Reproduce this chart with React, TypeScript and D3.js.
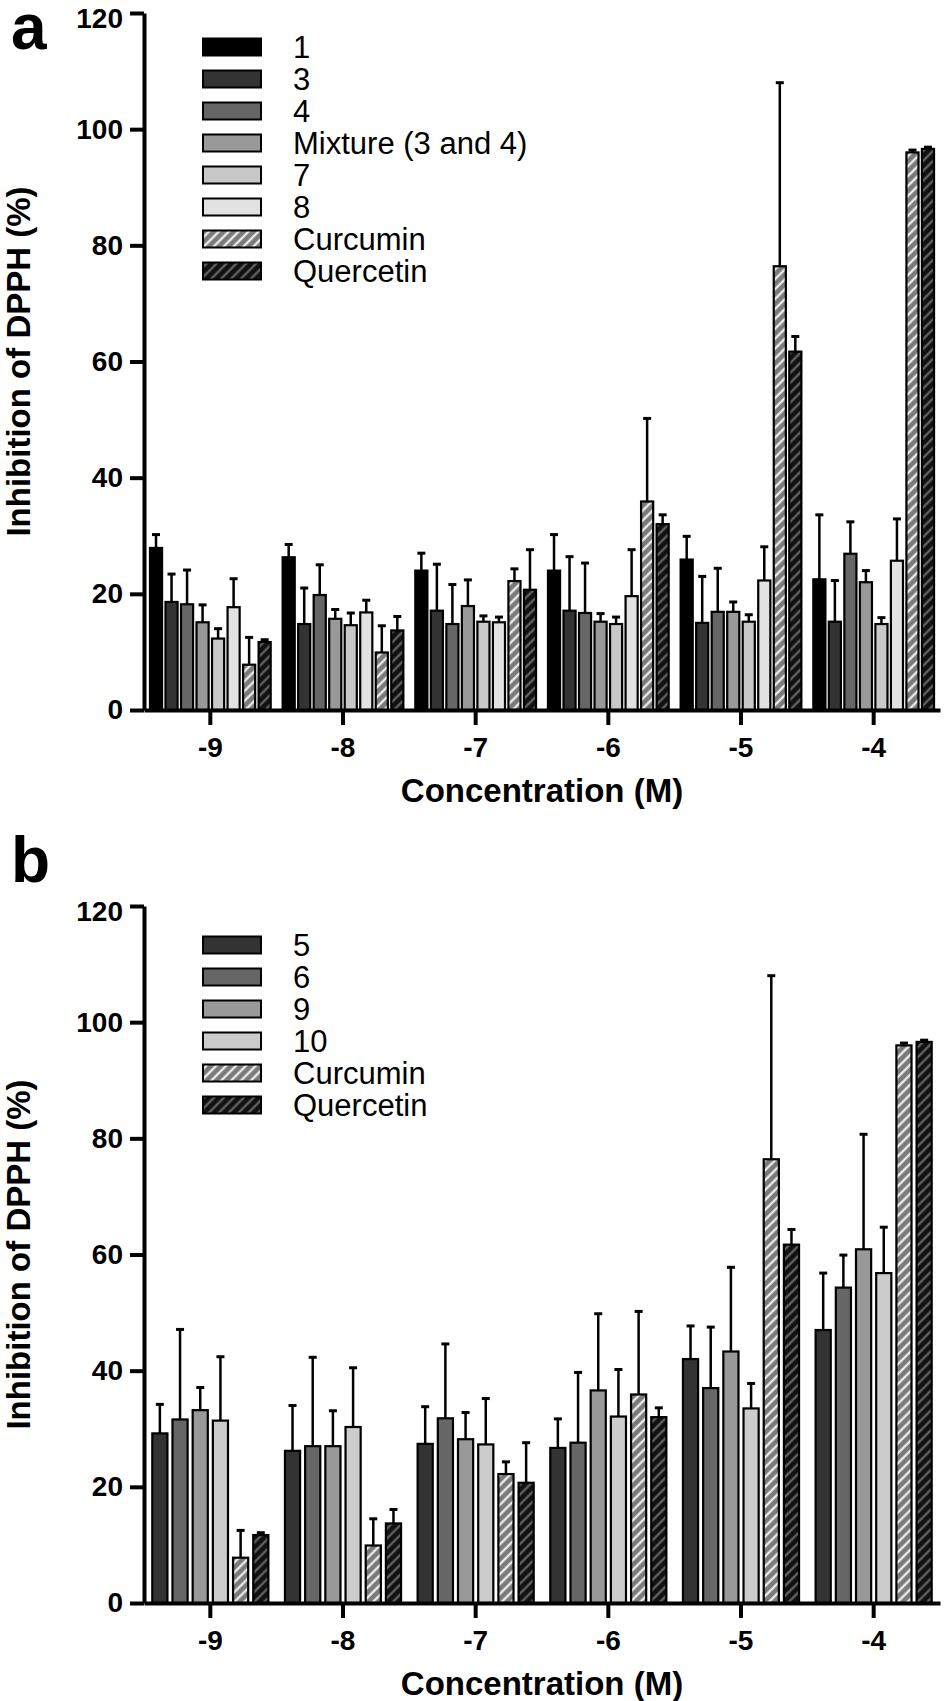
import React, { useEffect, useRef } from 'react';
import * as d3 from 'd3';

const CONCENTRATIONS = ['-9', '-8', '-7', '-6', '-5', '-4'];
const Y_TICKS = [0, 20, 40, 60, 80, 100, 120];

// panel a: mean inhibition (%) and upper error
const MEAN_1 = [27.9, 26.3, 24.0, 24.0, 25.9, 22.5];
const ERR_1 = [2.3, 2.2, 3.0, 6.2, 4.0, 11.1];
const MEAN_3 = [18.6, 14.8, 17.1, 17.1, 15.0, 15.2];
const ERR_3 = [4.8, 6.2, 8.0, 9.3, 8.0, 7.1];
const MEAN_4 = [18.2, 19.8, 14.8, 16.7, 16.9, 26.9];
const ERR_4 = [5.9, 5.2, 6.8, 8.6, 7.5, 5.5];
const MEAN_MIX = [15.1, 15.7, 17.9, 15.2, 16.9, 22.0];
const ERR_MIX = [3.0, 1.6, 4.5, 1.4, 1.7, 2.0];
const MEAN_7 = [12.3, 14.6, 15.2, 14.8, 15.2, 14.8];
const ERR_7 = [1.7, 2.1, 1.0, 1.2, 1.2, 1.1];
const MEAN_8 = [17.7, 16.8, 15.1, 19.6, 22.3, 25.7];
const ERR_8 = [4.9, 2.1, 0.9, 8.0, 5.8, 7.2];

// references (both panels)
const MEAN_CURCUMIN = [7.8, 9.9, 22.2, 35.9, 76.4, 96.0];
const ERR_CURCUMIN = [4.7, 4.6, 2.1, 14.3, 31.6, 0.4];
const MEAN_QUERCETIN = [11.7, 13.7, 20.7, 32.0, 61.7, 96.6];
const ERR_QUERCETIN = [0.4, 2.4, 6.9, 1.6, 2.6, 0.3];

// panel b
const MEAN_5 = [29.2, 26.2, 27.4, 26.7, 42.0, 47.0];
const ERR_5 = [5.0, 7.8, 6.4, 5.0, 5.7, 9.8];
const MEAN_6 = [31.6, 27.0, 31.8, 27.6, 37.0, 54.3];
const ERR_6 = [15.5, 15.3, 12.8, 12.1, 10.5, 5.6];
const MEAN_9 = [33.2, 27.0, 28.2, 36.6, 43.3, 60.9];
const ERR_9 = [3.9, 6.1, 4.6, 13.2, 14.5, 19.8];
const MEAN_10 = [31.4, 30.3, 27.3, 32.1, 33.5, 56.8];
const ERR_10 = [11.0, 10.2, 7.9, 8.1, 4.3, 7.9];

interface Series {
    name: string;
    fill: string;
    values: number[];
    errors: number[];
}

const SERIES_A: Series[] = [
    { name: '1', fill: '#000000', values: MEAN_1, errors: ERR_1 },
    { name: '3', fill: '#333333', values: MEAN_3, errors: ERR_3 },
    { name: '4', fill: '#666666', values: MEAN_4, errors: ERR_4 },
    { name: 'Mixture (3 and 4)', fill: '#999999', values: MEAN_MIX, errors: ERR_MIX },
    { name: '7', fill: '#c8c8c8', values: MEAN_7, errors: ERR_7 },
    { name: '8', fill: '#e2e2e2', values: MEAN_8, errors: ERR_8 },
    { name: 'Curcumin', fill: 'url(#hatch-curcumin)', values: MEAN_CURCUMIN, errors: ERR_CURCUMIN },
    { name: 'Quercetin', fill: 'url(#hatch-quercetin)', values: MEAN_QUERCETIN, errors: ERR_QUERCETIN },
];

const SERIES_B: Series[] = [
    { name: '5', fill: '#333333', values: MEAN_5, errors: ERR_5 },
    { name: '6', fill: '#666666', values: MEAN_6, errors: ERR_6 },
    { name: '9', fill: '#999999', values: MEAN_9, errors: ERR_9 },
    { name: '10', fill: '#cccccc', values: MEAN_10, errors: ERR_10 },
    { name: 'Curcumin', fill: 'url(#hatch-curcumin)', values: MEAN_CURCUMIN, errors: ERR_CURCUMIN },
    { name: 'Quercetin', fill: 'url(#hatch-quercetin)', values: MEAN_QUERCETIN, errors: ERR_QUERCETIN },
];

const FONT = "'Liberation Sans', Arial, Helvetica, sans-serif";

interface PanelOpts {
    label: string;
    labelY: number;
    top: number;     // y of 120
    bottom: number;  // y of 0
    legendY: number; // centre of first legend row
    groupPad: number;
    barPad: number;
    series: Series[];
}

const drawPanel = (svg: d3.Selection<SVGSVGElement, unknown, null, undefined>, o: PanelOpts) => {
    const left = 144;
    const right = 940;
    const g = svg.append('g');

    const x0 = d3.scaleBand<string>()
        .domain(CONCENTRATIONS)
        .range([left, right])
        .paddingInner(o.groupPad)
        .paddingOuter(o.groupPad / 2);
    const x1 = d3.scaleBand<string>()
        .domain(o.series.map(s => s.name))
        .range([0, x0.bandwidth()])
        .paddingInner(o.barPad);
    const y = d3.scaleLinear().domain([0, 120]).range([o.bottom, o.top]);

    // bars + error bars
    o.series.forEach(s => {
        const sg = g.append('g');
        CONCENTRATIONS.forEach((c, i) => {
            const bx = (x0(c) ?? 0) + (x1(s.name) ?? 0);
            const cx = bx + x1.bandwidth() / 2;
            const v = s.values[i];
            const e = s.errors[i];
            sg.append('line')
                .attr('x1', cx).attr('x2', cx)
                .attr('y1', y(v)).attr('y2', y(v + e))
                .attr('stroke', '#000').attr('stroke-width', 2.5);
            sg.append('line')
                .attr('x1', cx - 4).attr('x2', cx + 4)
                .attr('y1', y(v + e)).attr('y2', y(v + e))
                .attr('stroke', '#000').attr('stroke-width', 3);
            sg.append('rect')
                .attr('x', bx)
                .attr('y', y(v))
                .attr('width', x1.bandwidth())
                .attr('height', y(0) - y(v))
                .attr('fill', s.fill)
                .attr('stroke', '#000')
                .attr('stroke-width', 2.2);
        });
    });

    // axes
    const yAxis = d3.axisLeft(y).tickValues(Y_TICKS).tickSize(14).tickSizeOuter(0).tickPadding(7);
    const yg = g.append('g').attr('transform', `translate(${left},0)`).call(yAxis);
    const xAxis = d3.axisBottom(x0).tickSize(15).tickSizeOuter(0).tickPadding(12);
    const xg = g.append('g').attr('transform', `translate(0,${o.bottom})`).call(xAxis);

    [yg, xg].forEach(ax => {
        ax.select('.domain').attr('stroke', '#000').attr('stroke-width', 4);
        ax.selectAll('.tick line').attr('stroke', '#000').attr('stroke-width', 4);
        ax.selectAll('text')
            .attr('fill', '#000')
            .style('font-family', FONT)
            .style('font-weight', 'bold')
            .style('font-size', '28px');
    });
    // keep the top tick label inside the picture
    yg.selectAll<SVGTextElement, number>('text').attr('dy', d => (d === 120 ? '0.5em' : '0.32em'));

    // axis titles
    g.append('text')
        .attr('x', (left + right) / 2)
        .attr('y', o.bottom + 92)
        .attr('text-anchor', 'middle')
        .style('font-family', FONT)
        .style('font-weight', 'bold')
        .style('font-size', '33px')
        .text('Concentration (M)');

    g.append('text')
        .attr('transform', `translate(30,${(o.top + o.bottom) / 2}) rotate(-90)`)
        .attr('text-anchor', 'middle')
        .style('font-family', FONT)
        .style('font-weight', 'bold')
        .style('font-size', '33px')
        .text('Inhibition of DPPH (%)');

    // panel letter
    g.append('text')
        .attr('x', 11)
        .attr('y', o.labelY)
        .style('font-family', FONT)
        .style('font-weight', 'bold')
        .style('font-size', '64px')
        .text(o.label);

    // legend
    const lg = g.append('g');
    o.series.forEach((s, i) => {
        const cy = o.legendY + i * 32;
        lg.append('rect')
            .attr('x', 203).attr('y', cy - 8.5)
            .attr('width', 58).attr('height', 17)
            .attr('fill', s.fill)
            .attr('stroke', '#000')
            .attr('stroke-width', 2);
        lg.append('text')
            .attr('x', 293).attr('y', cy + 11)
            .style('font-family', FONT)
            .style('font-size', '31px')
            .text(s.name);
    });
};

export default function App() {
    const svgRef = useRef<SVGSVGElement>(null);

    useEffect(() => {
        if (!svgRef.current) return;
        const svg = d3.select(svgRef.current);
        svg.selectAll('*').remove();

        const defs = svg.append('defs');
        const hatch = (id: string, bg: string, fg: string) => {
            const p = defs.append('pattern')
                .attr('id', id)
                .attr('patternUnits', 'userSpaceOnUse')
                .attr('width', 7)
                .attr('height', 7)
                .attr('patternTransform', 'rotate(45)');
            p.append('rect').attr('width', 7).attr('height', 7).attr('fill', bg);
            p.append('line')
                .attr('x1', 3.5).attr('x2', 3.5)
                .attr('y1', 0).attr('y2', 7)
                .attr('stroke', fg).attr('stroke-width', 2);
        };
        hatch('hatch-curcumin', '#7a7a7a', '#ffffff');
        hatch('hatch-quercetin', '#111111', '#6e6e6e');

        svg.append('rect').attr('width', 945).attr('height', 1701).attr('fill', '#fff');

        drawPanel(svg, {
            label: 'a', labelY: 49, top: 13, bottom: 710, legendY: 47,
            groupPad: 0.09, barPad: 0.22, series: SERIES_A,
        });
        drawPanel(svg, {
            label: 'b', labelY: 882, top: 906, bottom: 1603, legendY: 945,
            groupPad: 0.125, barPad: 0.25, series: SERIES_B,
        });
    }, []);

    return (
        <svg
            ref={svgRef}
            width={945}
            height={1701}
            viewBox="0 0 945 1701"
            style={{ position: 'absolute', left: 0, top: 0, display: 'block' }}
        />
    );
}
